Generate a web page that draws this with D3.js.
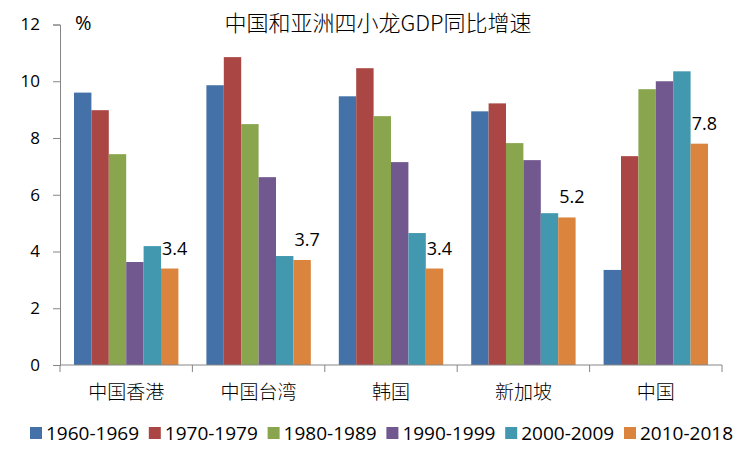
<!DOCTYPE html>
<html>
<head>
<meta charset="utf-8">
<script src="https://cdn.jsdelivr.net/npm/d3@7/dist/d3.min.js"></script>
<style>
  html, body { margin: 0; padding: 0; background: #fff; }
  svg { display: block; }
</style>
</head>
<body>
<svg id="chart" width="752" height="452"></svg>
<script>
const categories = ["中国香港", "中国台湾", "韩国", "新加坡", "中国"];
const seriesNames = ["1960-1969", "1970-1979", "1980-1989", "1990-1999", "2000-2009", "2010-2018"];
const s1960 = [9.6, 9.86, 9.47, 8.94, 3.35];
const s1970 = [8.98, 10.85, 10.46, 9.22, 7.36];
const s1980 = [7.43, 8.49, 8.77, 7.82, 9.72];
const s1990 = [3.63, 6.62, 7.15, 7.22, 10.0];
const s2000 = [4.19, 3.84, 4.65, 5.35, 10.35];
const s2010 = [3.4, 3.7, 3.4, 5.2, 7.8];
const yTicks = [0, 2, 4, 6, 8, 10, 12];
const colors = ["#4472A8", "#AA4643", "#89A54E", "#71588F", "#4198AF", "#DB843D"];
const title = "中国和亚洲四小龙GDP同比增速";
const unitLabel = "%";

const series = [s1960, s1970, s1980, s1990, s2000, s2010];
const svg = d3.select("#chart");
const fontLat = "'Open Sans', 'Noto Sans', sans-serif";
const fontCJK = "'Noto Sans CJK SC', sans-serif";

const x0 = d3.scaleBand().domain(categories).range([60, 722]).padding(0);
const x1 = d3.scaleBand().domain(d3.range(seriesNames.length))
  .range([14, x0.bandwidth() - 14]).padding(0);
const y = d3.scaleLinear().domain([0, 12]).range([365, 24.5]);

// bars
const g = svg.append("g");
categories.forEach((c, ci) => {
  const gg = g.append("g").attr("transform", `translate(${x0(c)},0)`);
  gg.selectAll("rect").data(series.map((s, si) => ({ si, v: s[ci] })))
    .join("rect")
    .attr("x", d => x1(d.si))
    .attr("width", x1.bandwidth())
    .attr("y", d => y(d.v))
    .attr("height", d => y(0) - y(d.v))
    .attr("fill", d => colors[d.si]);
  const last = series.length - 1;
  gg.append("text")
    .attr("x", x1(last) + x1.bandwidth() / 2 + 5)
    .attr("y", y(s2010[ci]) - 14)
    .attr("text-anchor", "middle")
    .attr("font-family", fontLat)
    .attr("font-size", 18)
    .attr("fill", "#000")
    .text(d3.format(".1f")(s2010[ci]));
});

// y axis
const yAxis = d3.axisLeft(y).tickValues(yTicks).tickSize(7).tickPadding(13).tickFormat(d3.format("d"));
const ya = svg.append("g").attr("transform", "translate(60,0)").call(yAxis);
ya.select(".domain").attr("stroke", "#868686").attr("stroke-width", 1);
ya.selectAll(".tick line").attr("stroke", "#868686");
ya.selectAll(".tick text").attr("font-family", fontLat).attr("font-size", 17).attr("fill", "#000");

// x axis
const xa = svg.append("g").attr("transform", `translate(0,${y(0)})`)
  .call(d3.axisBottom(x0).tickSize(0).tickPadding(20));
xa.select(".domain").attr("stroke", "#868686").attr("d", `M60,0H722`);
xa.selectAll(".tick text").attr("font-family", fontCJK).attr("font-size", 19).attr("font-weight", 300).attr("fill", "#000")
  .attr("dy", "0.71em").attr("y", 21);
const bounds = categories.map(c => x0(c)).concat([x0(categories[categories.length - 1]) + x0.bandwidth()]);
xa.selectAll(".bnd").data(bounds).join("line").attr("class", "bnd")
  .attr("x1", d => d).attr("x2", d => d).attr("y1", 0).attr("y2", 7)
  .attr("stroke", "#868686");

// title
svg.append("text").attr("x", 378).attr("y", 31).attr("text-anchor", "middle")
  .attr("font-family", fontCJK).attr("font-size", 22).attr("font-weight", 300).attr("fill", "#000").text(title);
svg.append("text").attr("x", 75).attr("y", 30)
  .attr("font-family", fontLat).attr("font-size", 20).attr("fill", "#000").text(unitLabel);

// legend
const legX = d3.scalePoint().domain(seriesNames).range([30, 624]);
const leg = svg.append("g");
seriesNames.forEach((n, i) => {
  leg.append("rect").attr("x", legX(n)).attr("y", 427).attr("width", 12).attr("height", 12).attr("fill", colors[i]);
  leg.append("text").attr("x", legX(n) + 16).attr("y", 433).attr("dy", "0.35em")
    .attr("font-family", fontLat).attr("font-size", 19).attr("fill", "#000").text(n);
});
</script>
</body>
</html>
